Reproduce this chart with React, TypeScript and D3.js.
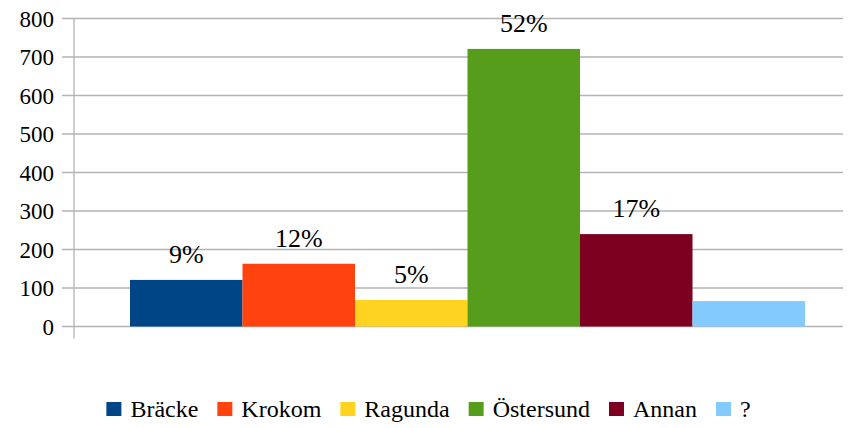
import React, { useEffect, useRef } from 'react';
import * as d3 from 'd3';

// Series (one category, six series)
const seriesNames: string[] = ['Bräcke', 'Krokom', 'Ragunda', 'Östersund', 'Annan', '?'];
const seriesValues: number[] = [121, 163, 69, 721, 240, 66];
const seriesLabels: string[] = ['9%', '12%', '5%', '52%', '17%', ''];
const seriesColors: string[] = ['#004586', '#ff420e', '#ffd320', '#579d1c', '#7e0021', '#83caff'];
const yTicks: number[] = [0, 100, 200, 300, 400, 500, 600, 700, 800];

const FONT = "'Liberation Serif', 'Times New Roman', Tinos";

export default function App() {
    const svgRef = useRef<SVGSVGElement>(null);
    const legendRef = useRef<SVGGElement>(null);

    const width = 851;
    const height = 428;
    const axisX = 74;
    const top = 18.5;
    const bottom = 326.5;

    const y = d3.scaleLinear().domain([0, 800]).range([bottom, top]);
    const x = d3.scaleBand<string>().domain(seriesNames).range([130, 805]).padding(0);

    useEffect(() => {
        if (!svgRef.current || !legendRef.current) return;
        // force the serif face on every text
        d3.select(svgRef.current).selectAll('text').style('font-family', FONT, 'important');

        // Legend: lay out entries by measured text width, centered
        const g = d3.select(legendRef.current);
        const box = 15;
        const gapText = 9;
        const gapItem = 19;
        const items = g.selectAll<SVGGElement, string>('g.item');
        let pos = 0;
        const offsets: number[] = [];
        items.each(function (this: SVGGElement) {
            offsets.push(pos);
            const t = this.querySelector('text') as SVGTextElement;
            pos += box + gapText + t.getComputedTextLength() + gapItem;
        });
        const total = pos - gapItem;
        const start = width / 2 + 3 - total / 2;
        items.attr('transform', (_, i) => `translate(${start + offsets[i]},409)`);
    }, []);

    // viewBox offset cancels the page's 8px body margin
    return (
        <svg ref={svgRef} width={width} height={height} viewBox={`8 8 ${width} ${height}`} fontFamily={FONT}>
            {/* gridlines */}
            {yTicks.map((t) => (
                <line key={t} x1={62} x2={width + 10} y1={y(t)} y2={y(t)} stroke="#b3b3b3" strokeWidth={1.3} />
            ))}
            {/* y axis line */}
            <line x1={axisX} x2={axisX} y1={top} y2={bottom + 12} stroke="#b3b3b3" strokeWidth={1.3} />
            {/* tick labels */}
            {yTicks.map((t) => (
                <text key={t} x={54} y={y(t)} dy="0.35em" textAnchor="end" fontSize={23} fontFamily={FONT}>
                    {t}
                </text>
            ))}
            {/* bars */}
            {seriesNames.map((s, i) => (
                <rect
                    key={s}
                    x={x(s)!}
                    y={y(seriesValues[i])}
                    width={x.bandwidth()}
                    height={y(0) - y(seriesValues[i])}
                    fill={seriesColors[i]}
                />
            ))}
            {/* value labels */}
            {seriesNames.map((s, i) => (
                <text
                    key={s}
                    x={x(s)! + x.bandwidth() / 2}
                    y={y(seriesValues[i]) - 17}
                    textAnchor="middle"
                    fontSize={26}
                    fontFamily={FONT}
                >
                    {seriesLabels[i]}
                </text>
            ))}
            {/* legend */}
            <g ref={legendRef}>
                {seriesNames.map((s, i) => (
                    <g key={s} className="item">
                        <rect width={15} height={14} y={-7} fill={seriesColors[i]} />
                        <text x={24} dy="0.32em" fontSize={24} fontFamily={FONT}>
                            {s}
                        </text>
                    </g>
                ))}
            </g>
        </svg>
    );
}
